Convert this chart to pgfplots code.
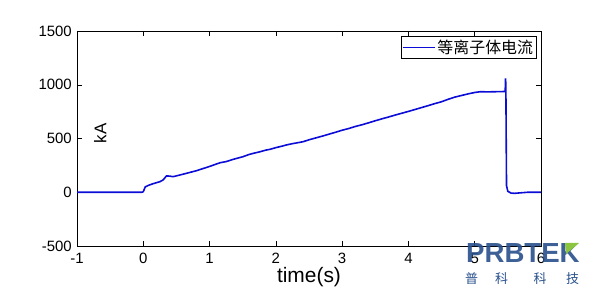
\documentclass[border=0pt]{standalone}
\usepackage{pgfplots}
\pgfplotsset{compat=1.18}
\usepackage{fontspec}
\setmainfont{Liberation Sans}
\newfontfamily\cjk{Noto Sans CJK SC}
\definecolor{curve}{RGB}{12,12,215}
\definecolor{logoblue}{RGB}{40,80,140}
\definecolor{logogreen}{RGB}{140,198,63}
\begin{document}
\begin{tikzpicture}
\begin{axis}[
  scale only axis, width=464bp, height=215bp,
  xmin=-1, xmax=6, ymin=-500, ymax=1500,
  xtick={-1,0,1,2,3,4,5,6}, ytick={-500,0,500,1000,1500},
  tick align=inside, major tick length=5bp,
  tick style={black, line width=0.5pt},
  axis line style={black, line width=0.6pt},
  /pgf/number format/assume math mode=true,
  /pgf/number format/1000 sep={},
  ticklabel style={font=\fontsize{15}{17}\selectfont},
  xticklabel style={anchor=base, inner sep=0pt, yshift=-17bp},
  yticklabel style={anchor=east, inner sep=0pt, xshift=-5bp},
  xlabel={time(s)},
  xlabel style={font=\fontsize{21}{24}\selectfont, at={(axis description cs:0.5,0)}, anchor=base, inner sep=0pt, yshift=-36bp},
  legend style={at={(0.991,0.977)}, anchor=north east, draw=black, line width=0.5pt,
    font=\cjk\fontsize{16}{18}\selectfont, inner sep=1.5pt, row sep=0pt},
  legend image code/.code={\draw[curve, line width=1pt] (0bp,0bp) -- (32bp,0bp);},
  legend cell align=left,
]
\addplot[curve, line width=1.6bp] coordinates {
(-1,0) (-0.5,0) (-0.02,0) (0,5) (0.03,50) (0.08,65) (0.15,80) (0.25,98) (0.3,115)
(0.35,152) (0.4,150) (0.45,145) (0.55,160) (0.65,176) (0.8,200) (0.9,220) (1.0,240)
(1.1,262) (1.16,275) (1.25,285) (1.35,305) (1.41,315) (1.5,330) (1.6,352) (1.66,362)
(1.75,375) (1.85,392) (1.91,399) (2.0,415) (2.1,430) (2.16,440) (2.25,452) (2.35,463)
(2.41,470) (2.5,488) (2.6,505) (2.7,522) (2.8,540) (2.9,558) (3.0,577) (3.1,593)
(3.2,612) (3.3,628) (3.4,646) (3.5,665) (3.6,683) (3.7,700) (3.8,718) (3.9,735)
(4.0,752) (4.1,770) (4.2,788) (4.3,806) (4.4,825) (4.5,842) (4.6,865) (4.7,885)
(4.8,900) (4.9,915) (5.0,928) (5.08,935) (5.2,934) (5.3,935) (5.44,937)
(5.46,938) (5.465,1060) (5.47,1000) (5.475,500) (5.48,60) (5.5,8) (5.55,-8)
(5.6,-10) (5.7,-5) (5.8,0) (6,0)
};
\addlegendentry{等离子体电流}
\node[rotate=90, font=\fontsize{17}{19}\selectfont] at (axis cs:-0.65,550) {kA};
\end{axis}
% watermark logo
\node[anchor=base west, inner sep=0pt, text=logoblue, font=\fontsize{27.7}{30}\selectfont\bfseries, opacity=0.9] at (389bp,-16bp) {PRBTEK};
\fill[logogreen] (488bp,3bp) -- (502bp,3bp) -- (489bp,-8bp) -- cycle;
\foreach \xx/\ch in {394.5/普, 424.5/科, 463/科, 495.5/技}
  \node[anchor=base, inner sep=0pt, text=logoblue, font=\cjk\fontsize{13}{15}\selectfont] at (\xx bp,-37bp) {\ch};
\pgfresetboundingbox
\path[use as bounding box] (-77bp,-48bp) rectangle (523bp,246bp);
\end{tikzpicture}
\end{document}
